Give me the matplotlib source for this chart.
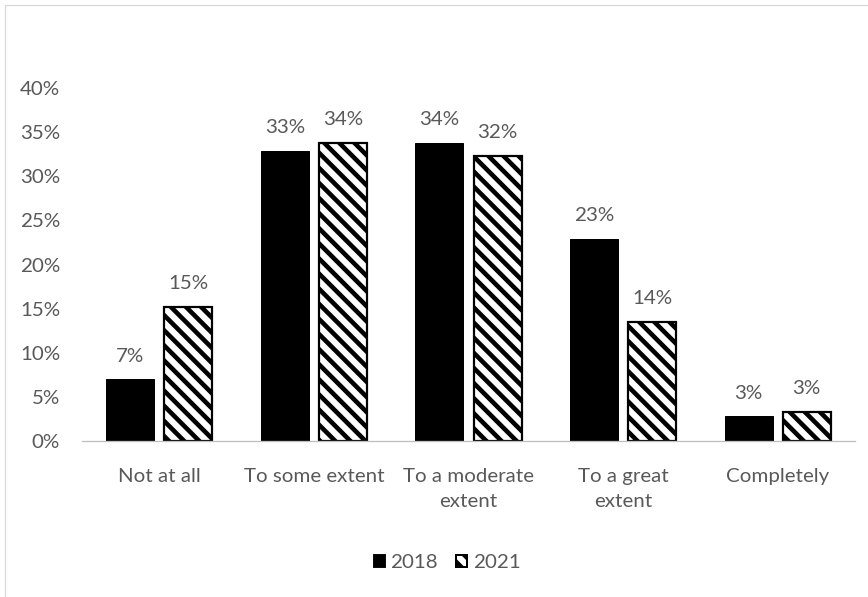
import matplotlib
matplotlib.use('Agg')
import matplotlib.pyplot as plt
from matplotlib.patches import Patch, Rectangle
import numpy as np

# data
categories = ['Not at all', 'To some extent', 'To a moderate\nextent', 'To a great\nextent', 'Completely']
v2018 = [7.0, 32.9, 33.8, 22.9, 2.8]
v2021 = [15.2, 33.8, 32.3, 13.5, 3.3]
lab2018 = ['7%', '33%', '34%', '23%', '3%']
lab2021 = ['15%', '34%', '32%', '14%', '3%']
yticks = [0, 5, 10, 15, 20, 25, 30, 35, 40]

DPI = 136
W, H = 868, 597
pt = 72.0 / DPI  # px -> points
gray = '#595959'
HATCH = '\\' * 3

plt.rcParams['font.family'] = ['Lato', 'DejaVu Sans']
plt.rcParams['hatch.linewidth'] = 4.6 * pt
plt.rcParams['hatch.color'] = 'black'

fig = plt.figure(figsize=(W / DPI, H / DPI), dpi=DPI)
ax = fig.add_axes([82 / W, 1 - 441 / H, (855 - 82) / W, (441 - 88) / H])

x = np.arange(len(categories))
bw = 0.31
off = 0.188
b1 = ax.bar(x - off, v2018, bw, color='black', edgecolor='black', linewidth=1.0 * pt)
b2 = ax.bar(x + off, v2021, bw, color='white', edgecolor='black', hatch=HATCH, linewidth=2.2 * pt)

fs = 20.5 * pt
for bars, labs in ((b1, lab2018), (b2, lab2021)):
    for b, t in zip(bars, labs):
        ax.annotate(t, (b.get_x() + b.get_width() / 2, b.get_height()),
                    xytext=(0, 23 * pt), textcoords='offset points',
                    ha='center', va='center', fontsize=fs, color=gray)

ax.set_xlim(-0.5, len(categories) - 0.5)
ax.set_ylim(0, 40)
ax.set_yticks(yticks)
ax.set_yticklabels([str(t) + '%' for t in yticks])
ax.set_xticks(x)
ax.set_xticklabels(categories, linespacing=1.6)
ax.tick_params(axis='both', length=0, labelsize=fs, colors=gray)
ax.tick_params(axis='y', pad=22 * pt)
ax.tick_params(axis='x', pad=27 * pt)
for s in ['top', 'right', 'left']:
    ax.spines[s].set_visible(False)
ax.spines['bottom'].set_color('#bfbfbf')
ax.spines['bottom'].set_linewidth(1.3 * pt)

handles = [Patch(facecolor='black', edgecolor='black', label='2018'),
           Patch(facecolor='white', edgecolor='black', hatch=HATCH, linewidth=2 * pt, label='2021')]
fig.legend(handles=handles, loc='center', bbox_to_anchor=(447 / W, 1 - 563 / H), ncol=2,
           frameon=False, fontsize=fs, labelcolor=gray, handlelength=0.55, handleheight=0.55,
           handletextpad=0.25, columnspacing=0.9)

# chart area border
fig.patches.append(Rectangle((5 / W, -0.1), 1.2, 1 - 5 / H + 0.1, transform=fig.transFigure,
                             fill=False, edgecolor='#d9d9d9', linewidth=1.3 * pt))

fig.savefig('out.png', dpi=DPI)
